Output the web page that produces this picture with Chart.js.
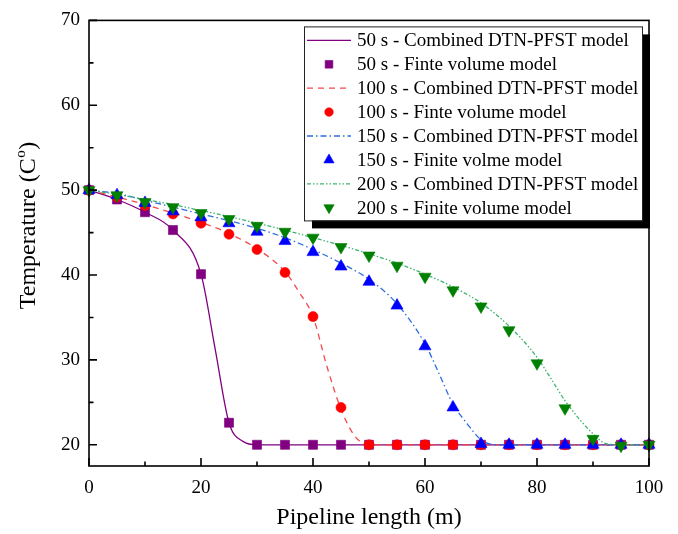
<!DOCTYPE html>
<html>
<head>
<meta charset="utf-8">
<script src="https://cdn.jsdelivr.net/npm/chart.js@4.4.1/dist/chart.umd.min.js"></script>
<style>
  html, body { margin: 0; padding: 0; background: #fff; }
  #wrap { width: 678px; height: 534px; }
</style>
</head>
<body>
<div id="wrap"><canvas id="c" width="678" height="534"></canvas></div>
<script>
// Pipeline temperature profiles at four times: model curves and finite-volume points.
const legendLabels = [
  '50 s - Combined DTN-PFST model',
  '50 s - Finte volume model',
  '100 s - Combined DTN-PFST model',
  '100 s - Finte volume model',
  '150 s - Combined DTN-PFST model',
  '150 s - Finite volme model',
  '200 s - Combined DTN-PFST model',
  '200 s - Finite volume model'
];

// Finite volume nodes (m)
const fvLength = [0, 5, 10, 15, 20, 25, 30, 35, 40, 45, 50, 55, 60, 65, 70, 75, 80, 85, 90, 95, 100];
const fv50  = [50, 48.9, 47.4, 45.3, 40.1, 22.6, 20, 20, 20, 20, 20, 20, 20, 20, 20, 20, 20, 20, 20, 20, 20];
const fv100 = [50, 49.2, 48.2, 47.2, 46.1, 44.8, 43.0, 40.3, 35.1, 24.4, 20, 20, 20, 20, 20, 20, 20, 20, 20, 20, 20];
const fv150 = [50, 49.4, 48.5, 47.5, 46.8, 46.1, 45.1, 44.0, 42.7, 41.0, 39.2, 36.4, 31.6, 24.4, 20.1, 20, 20, 20, 20, 20, 20];
const fv200 = [50, 49.4, 48.6, 48.0, 47.3, 46.6, 45.8, 45.1, 44.4, 43.3, 42.3, 41.1, 39.8, 38.2, 36.3, 33.5, 29.6, 24.3, 20.7, 19.9, 20.0];

// Combined DTN-PFST model curves
const dtn50X  = [0, 5, 10, 15, 20, 22.5, 25, 27.5, 30, 100];
const dtn50Y  = [50, 48.9, 47.4, 45.3, 40.1, 31.4, 22.6, 20.4, 20, 20];
const dtn100X = [0, 5, 10, 15, 20, 25, 30, 35, 37.5, 40, 42.5, 45, 47.5, 50, 100];
const dtn100Y = [50, 49.2, 48.3, 47.3, 46.2, 44.9, 43.1, 40.4, 38.0, 35.1, 29.2, 24.2, 21.0, 20, 20];
const dtn150X = [0, 5, 10, 15, 20, 25, 30, 35, 40, 45, 50, 55, 60, 62.5, 65, 67.5, 70, 72.5, 100];
const dtn150Y = [50, 49.6, 48.8, 48.0, 47.2, 46.4, 45.5, 44.4, 43.0, 41.4, 39.5, 36.6, 31.9, 28.4, 24.8, 22.5, 20.6, 20, 20];
const dtn200X = [0, 5, 10, 15, 20, 25, 30, 35, 40, 45, 50, 55, 60, 65, 70, 75, 80, 82.5, 85, 90, 92.5, 95, 100];
const dtn200Y = [50, 49.5, 48.9, 48.3, 47.6, 46.9, 46.1, 45.3, 44.4, 43.5, 42.5, 41.4, 40.1, 38.6, 36.7, 34.0, 30.3, 27.8, 25.2, 21.3, 20.1, 20, 20];

// Axis ticks
const xTickValues = [0, 10, 20, 30, 40, 50, 60, 70, 80, 90, 100];
const yTickValues = [20, 25, 30, 35, 40, 45, 50, 55, 60, 65, 70];

const SERIF = '"Liberation Serif", "Times New Roman", Times, serif';

function pairs(xs, ys) { return xs.map((x, i) => ({ x: x, y: ys[i] })); }

function modelLine(label, xs, ys, color, dash, order) {
  return {
    label, data: pairs(xs, ys), showLine: true,
    borderColor: color, borderWidth: 1.3, borderDash: dash,
    pointRadius: 0, pointHoverRadius: 0, fill: false,
    cubicInterpolationMode: 'monotone', order
  };
}
function fvPoints(label, ys, color, style, radius, rotation, order) {
  return {
    label, data: pairs(fvLength, ys), showLine: false,
    pointStyle: style, pointRadius: radius, pointRotation: rotation,
    pointBackgroundColor: color, pointBorderColor: color, pointBorderWidth: 0.6,
    borderColor: color, backgroundColor: color, clip: false, order
  };
}

const datasets = [
  modelLine(legendLabels[0], dtn50X, dtn50Y, '#800080', [], 8),
  fvPoints(legendLabels[1], fv50, '#800080', 'rect', 6.4, 0, 7),
  modelLine(legendLabels[2], dtn100X, dtn100Y, '#f24a4a', [6, 5], 6),
  fvPoints(legendLabels[3], fv100, '#ff0000', 'circle', 5, 0, 5),
  modelLine(legendLabels[4], dtn150X, dtn150Y, '#2a6ee0', [6, 3, 1.5, 3], 4),
  fvPoints(legendLabels[5], fv150, '#0000ff', 'triangle', 7, 0, 3),
  modelLine(legendLabels[6], dtn200X, dtn200Y, '#3cb371', [4, 2, 1.5, 2, 1.5, 2], 2),
  fvPoints(legendLabels[7], fv200, '#008000', 'triangle', 7, 180, 1)
];

// Frame around the plot and inward tick marks
const framePlugin = {
  id: 'frameTicks',
  afterDatasetsDraw(chart) {
    const { ctx, chartArea: a, scales } = chart;
    ctx.save();
    ctx.strokeStyle = '#000';
    ctx.lineWidth = 1.6;
    ctx.setLineDash([]);
    ctx.beginPath();
    xTickValues.forEach(v => {
      const px = scales.x.getPixelForValue(v);
      const len = v % 20 === 0 ? 8 : 4.5;
      ctx.moveTo(px, a.bottom);
      ctx.lineTo(px, a.bottom - len);
    });
    yTickValues.forEach(v => {
      const py = scales.y.getPixelForValue(v);
      const len = v % 10 === 0 ? 8 : 4.5;
      ctx.moveTo(a.left, py);
      ctx.lineTo(a.left + len, py);
    });
    ctx.stroke();
    ctx.strokeRect(a.left, a.top, a.right - a.left, a.bottom - a.top);
    ctx.restore();
  },
  afterDraw(chart) {
    const { ctx, chartArea: a } = chart;
    // Y axis title with superscript
    ctx.save();
    ctx.fillStyle = '#000';
    ctx.translate(29, 226);
    ctx.rotate(-Math.PI / 2);
    ctx.textBaseline = 'middle';
    ctx.textAlign = 'left';
    const big = '24px ' + SERIF, small = '15px ' + SERIF;
    ctx.font = big; const w1 = ctx.measureText('Temperature (C').width;
    ctx.font = small; const w2 = ctx.measureText('o').width;
    ctx.font = big; const w3 = ctx.measureText(')').width;
    const x0 = -(w1 + w2 + w3) / 2;
    ctx.font = big; ctx.fillText('Temperature (C', x0, 0);
    ctx.font = small; ctx.fillText('o', x0 + w1 + 0.5, -8);
    ctx.font = big; ctx.fillText(')', x0 + w1 + w2 + 1, 0);
    ctx.restore();

    // Legend box with drop shadow
    const L = a.left + 215, T = a.top + 6, W = 338, H = 194;
    ctx.save();
    ctx.fillStyle = '#000';
    ctx.fillRect(L + 8, T + 8, W, H);
    ctx.fillStyle = '#fff';
    ctx.fillRect(L, T, W, H);
    ctx.strokeStyle = '#222';
    ctx.lineWidth = 1;
    ctx.strokeRect(L + 0.5, T + 0.5, W, H);
    ctx.font = '19px ' + SERIF;
    ctx.textBaseline = 'middle';
    ctx.textAlign = 'left';
    chart.data.datasets.forEach((ds, i) => {
      const cy = T + 14 + i * 23.9;
      if (ds.showLine) {
        ctx.strokeStyle = ds.borderColor;
        ctx.lineWidth = 1.3;
        ctx.setLineDash(ds.borderDash || []);
        ctx.beginPath();
        ctx.moveTo(L + 3, cy);
        ctx.lineTo(L + 47, cy);
        ctx.stroke();
        ctx.setLineDash([]);
      } else {
        ctx.fillStyle = ds.pointBackgroundColor;
        ctx.strokeStyle = ds.pointBorderColor;
        ctx.lineWidth = 0.6;
        Chart.helpers.drawPoint(ctx, {
          pointStyle: ds.pointStyle, radius: ds.pointRadius * 0.85,
          rotation: ds.pointRotation, borderWidth: 0.6
        }, L + 25, cy);
      }
      ctx.fillStyle = '#000';
      ctx.fillText(ds.label, L + 53, cy + 1);
    });
    ctx.restore();
  }
};

new Chart(document.getElementById('c'), {
  type: 'line',
  data: { datasets },
  options: {
    responsive: false,
    animation: false,
    devicePixelRatio: 1,
    layout: { padding: { left: 0, right: 29, top: 15, bottom: 0 } },
    plugins: { legend: { display: false }, tooltip: { enabled: false } },
    scales: {
      x: {
        type: 'linear', min: 0, max: 100,
        afterBuildTicks: s => { s.ticks = xTickValues.map(v => ({ value: v })); },
        afterFit: s => { s.height = 68; },
        grid: { display: false, drawTicks: false },
        border: { display: false },
        ticks: {
          autoSkip: false, maxRotation: 0, padding: 11, color: '#000',
          font: { family: SERIF, size: 19 },
          callback: v => (v % 20 === 0 ? String(v) : '')
        },
        title: {
          display: true, text: 'Pipeline length (m)', color: '#000',
          font: { family: SERIF, size: 24 }, padding: { top: 0, bottom: 2 }
        }
      },
      y: {
        type: 'linear', min: 17.5, max: 70,
        afterBuildTicks: s => { s.ticks = yTickValues.map(v => ({ value: v })); },
        afterFit: s => { s.width = 89; },
        grid: { display: false, drawTicks: false },
        border: { display: false },
        ticks: {
          autoSkip: false, padding: 9, color: '#000',
          font: { family: SERIF, size: 19 },
          callback: v => (v % 10 === 0 ? String(v) : '')
        }
      }
    }
  },
  plugins: [framePlugin]
});
</script>
</body>
</html>
